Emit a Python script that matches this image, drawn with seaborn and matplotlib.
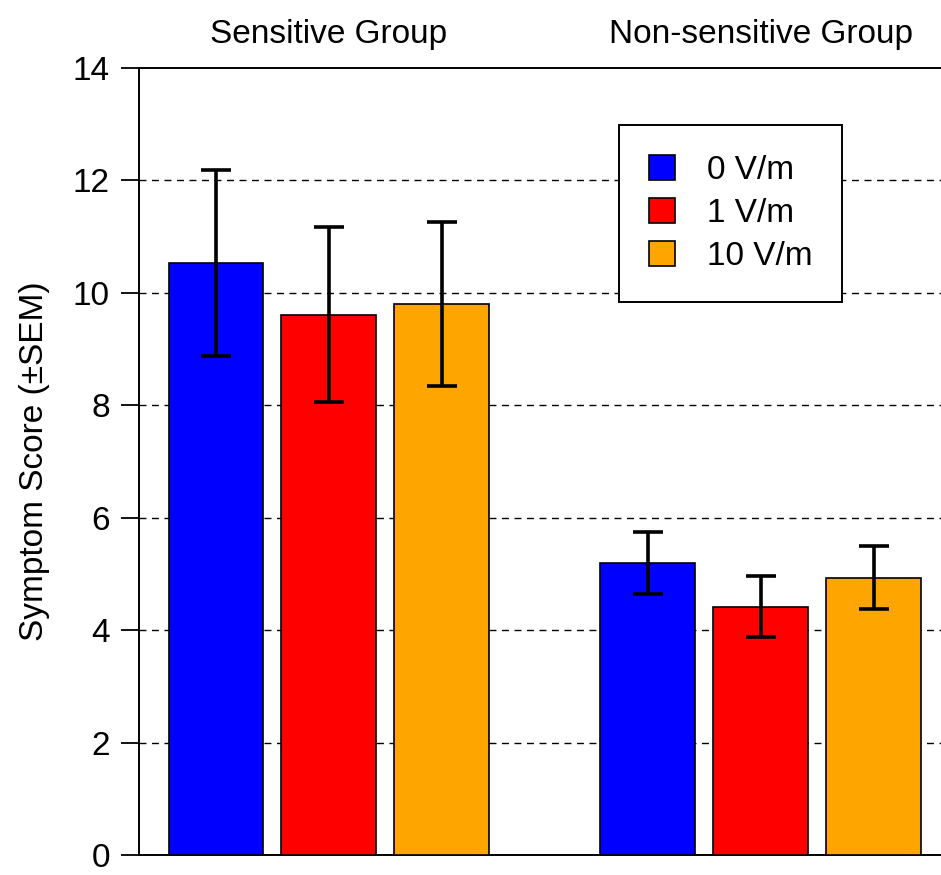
import pandas as pd
import numpy as np
import matplotlib
matplotlib.use('Agg')
import matplotlib.pyplot as plt
import seaborn as sns

# --- data ---
groups = ['Sensitive Group', 'Non-sensitive Group']
fields = ['0 V/m', '1 V/m', '10 V/m']
means_sensitive = [10.53, 9.61, 9.80]
means_nonsensitive = [5.20, 4.42, 4.93]
sem_sensitive = [1.66, 1.56, 1.46]
sem_nonsensitive = [0.55, 0.54, 0.56]
yticks = [0, 2, 4, 6, 8, 10, 12, 14]

colors = ['#0000FF', '#FF0000', '#FFA500']

df = pd.DataFrame({
    'group': np.repeat(groups, len(fields)),
    'field': fields * len(groups),
    'score': means_sensitive + means_nonsensitive,
    'sem': sem_sensitive + sem_nonsensitive,
})

sns.set_style('ticks')
plt.rcParams['font.family'] = ['Liberation Sans', 'DejaVu Sans']
plt.rcParams['text.color'] = 'black'
plt.rcParams['axes.labelcolor'] = 'black'
plt.rcParams['xtick.color'] = 'black'
plt.rcParams['ytick.color'] = 'black'

FS = 24

fig = plt.figure(figsize=(9.41, 8.75), dpi=100)
ax = fig.add_axes([0.1477, 0.0229, 0.8523, 0.8994])

sns.barplot(data=df, x='group', y='score', hue='field', order=groups,
            hue_order=fields, palette=colors, errorbar=None,
            width=0.785, gap=0.16, edgecolor='black', linewidth=1.2,
            saturation=1, ax=ax, zorder=3)

# error bars centred on the drawn bars
for i, f in enumerate(fields):
    cont = ax.containers[i]
    sub = df[df['field'] == f].set_index('group').loc[groups]
    xs = [p.get_x() + p.get_width() / 2 for p in cont.patches]
    ax.errorbar(xs, sub['score'], yerr=sub['sem'], fmt='none', ecolor='black',
                elinewidth=2.6, capsize=11, capthick=2.6, zorder=4)

ax.set_ylim(0, 14)
ax.set_xlim(-0.44, 1.418)
ax.set_yticks(yticks)
ax.set_yticklabels([str(t) for t in yticks], fontsize=FS)
for t in yticks[1:-1]:
    ax.axhline(t, color='black', linestyle=(0, (5, 4)), linewidth=1, zorder=1)

ax.xaxis.tick_top()
ax.set_xticks([0, 1])
ax.set_xticklabels(groups, fontsize=FS)
ax.tick_params(axis='x', length=0, pad=13)
ax.tick_params(axis='y', length=13, width=1.3, pad=8)
ax.set_xlabel('')
ax.set_ylabel('Symptom Score (±SEM)', fontsize=FS, labelpad=16)

for s in ['left', 'top', 'bottom']:
    ax.spines[s].set_color('black')
    ax.spines[s].set_linewidth(1.4)
ax.spines['right'].set_visible(False)

leg = ax.legend(loc='upper left', bbox_to_anchor=(0.5985, 0.9276), fontsize=FS,
                frameon=True, fancybox=False, framealpha=1, edgecolor='black',
                handlelength=0.78, handleheight=0.78, handletextpad=0.95,
                borderpad=0.9, labelspacing=0.36, borderaxespad=0)
leg.get_frame().set_linewidth(1.4)
leg.set_zorder(5)

fig.savefig('out.png', dpi=100)
